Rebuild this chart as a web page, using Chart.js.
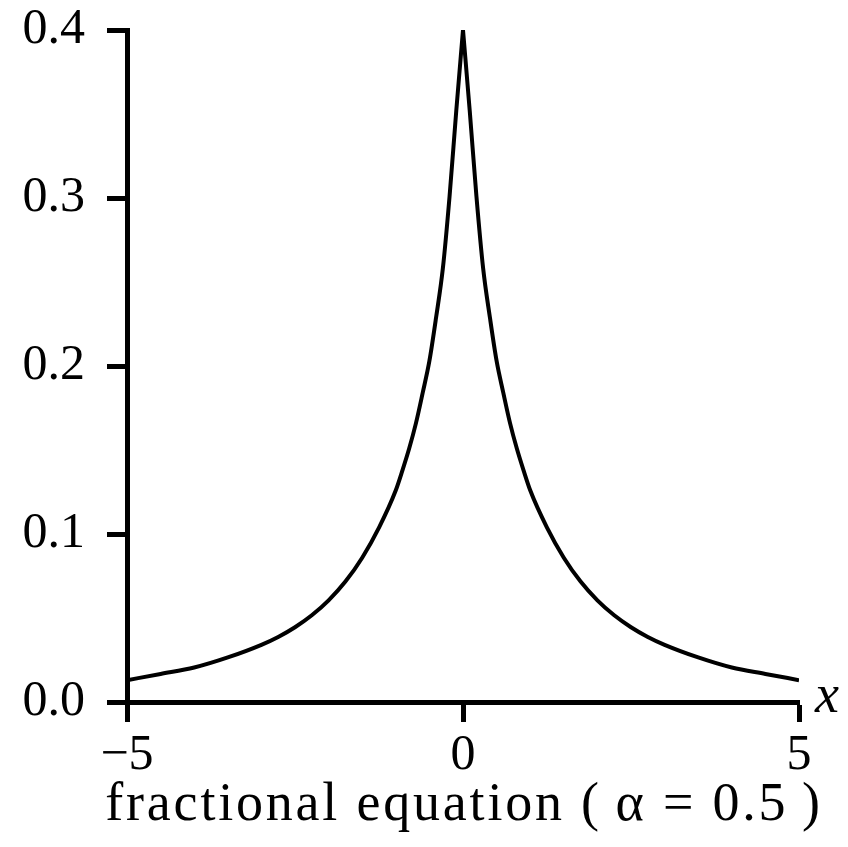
<!DOCTYPE html>
<html>
<head>
<meta charset="utf-8">
<script src="https://cdn.jsdelivr.net/npm/chart.js@4/dist/chart.umd.min.js"></script>
<style>
  html, body { margin: 0; padding: 0; background: #fff; }
  #wrap { width: 848px; height: 847px; }
</style>
</head>
<body>
<div id="wrap"><canvas id="chart" width="848" height="847"></canvas></div>
<script>
// solution profile, drawn as two branches so the peak at x = 0 stays sharp
const xsLeft = [
  -5, -4.5, -4, -3.5, -3, -2.75, -2.5, -2.25, -2, -1.75, -1.5, -1.25,
  -1, -0.9, -0.8, -0.7, -0.6, -0.5, -0.4, -0.3, -0.2, -0.1, 0
];
const ysLeft = [
  0.013, 0.0167, 0.0205, 0.0265, 0.034, 0.0387, 0.0445, 0.0516, 0.0605, 0.0717, 0.0859, 0.1038,
  0.126, 0.138, 0.151, 0.166, 0.184, 0.203, 0.229, 0.258, 0.301, 0.352, 0.400
];
const xsRight = [
  0, 0.1, 0.2, 0.3, 0.4, 0.5, 0.6, 0.7, 0.8, 0.9, 1,
  1.25, 1.5, 1.75, 2, 2.25, 2.5, 2.75, 3, 3.5, 4, 4.5, 5
];
const ysRight = [
  0.400, 0.352, 0.301, 0.258, 0.229, 0.203, 0.184, 0.166, 0.151, 0.138, 0.126,
  0.1038, 0.0859, 0.0717, 0.0605, 0.0516, 0.0445, 0.0387, 0.034, 0.0265, 0.0205, 0.0167, 0.013
];
const xTicks = [-5, 0, 5];
const xTickLabels = ['\u22125', '0', '5'];
const yTicks = [0, 0.1, 0.2, 0.3, 0.4];
const yTickLabels = ['0.0', '0.1', '0.2', '0.3', '0.4'];
const xName = 'x';
const caption = 'fractional equation (\u2009\u03b1 = 0.5\u2009)';

const serif = "'Liberation Serif', 'DejaVu Serif', serif";

// italic axis name past the end of the x axis, caption underneath the plot
const labels = {
  id: 'labels',
  afterDraw(chart) {
    const { ctx, chartArea } = chart;
    const mid = (chartArea.left + chartArea.right) / 2;
    ctx.save();
    ctx.fillStyle = '#000';
    ctx.textBaseline = 'alphabetic';
    ctx.textAlign = 'center';

    ctx.font = 'italic 54px ' + serif;
    ctx.fillText(xName, chartArea.right + 28, chartArea.bottom + 10);

    ctx.font = '54px ' + serif;
    ctx.letterSpacing = '2.8px';
    ctx.fillText(caption, mid + 1, chartArea.bottom + 118);
    ctx.restore();
  }
};

const branch = (xs, ys) => ({
  data: xs.map((x, i) => ({ x: x, y: ys[i] })),
  borderColor: '#000',
  borderWidth: 4,
  pointRadius: 0,
  cubicInterpolationMode: 'monotone',
  fill: false
});

const ctx = document.getElementById('chart').getContext('2d');

new Chart(ctx, {
  type: 'line',
  data: {
    datasets: [branch(xsLeft, ysLeft), branch(xsRight, ysRight)]
  },
  options: {
    responsive: false,
    animation: false,
    layout: { padding: { top: 30, right: 49, left: 0, bottom: 0 } },
    plugins: {
      legend: { display: false },
      tooltip: { enabled: false }
    },
    scales: {
      x: {
        type: 'linear',
        min: -5,
        max: 5,
        afterBuildTicks: (axis) => { axis.ticks = xTicks.map(v => ({ value: v })); },
        afterFit: (axis) => {
          axis.height = 145;
          axis.paddingLeft = 0;
          axis.paddingRight = 0;
        },
        border: { color: '#000', width: 5 },
        grid: { drawOnChartArea: false, tickLength: 20, tickWidth: 5, tickColor: '#000' },
        ticks: {
          color: '#000',
          padding: 4,
          font: { family: serif, size: 50 },
          maxRotation: 0,
          callback: (v) => xTickLabels[xTicks.indexOf(v)]
        }
      },
      y: {
        min: 0,
        max: 0.4,
        afterBuildTicks: (axis) => { axis.ticks = yTicks.map(v => ({ value: v })); },
        afterFit: (axis) => {
          axis.width = 127;
          axis.paddingTop = 0;
          axis.paddingBottom = 0;
        },
        border: { color: '#000', width: 5 },
        grid: { drawOnChartArea: false, tickLength: 20, tickWidth: 5, tickColor: '#000' },
        ticks: {
          color: '#000',
          padding: 22,
          font: { family: serif, size: 50 },
          callback: (v) => yTickLabels[yTicks.findIndex(t => Math.abs(t - v) < 1e-9)]
        }
      }
    }
  },
  plugins: [labels]
});
</script>
</body>
</html>
